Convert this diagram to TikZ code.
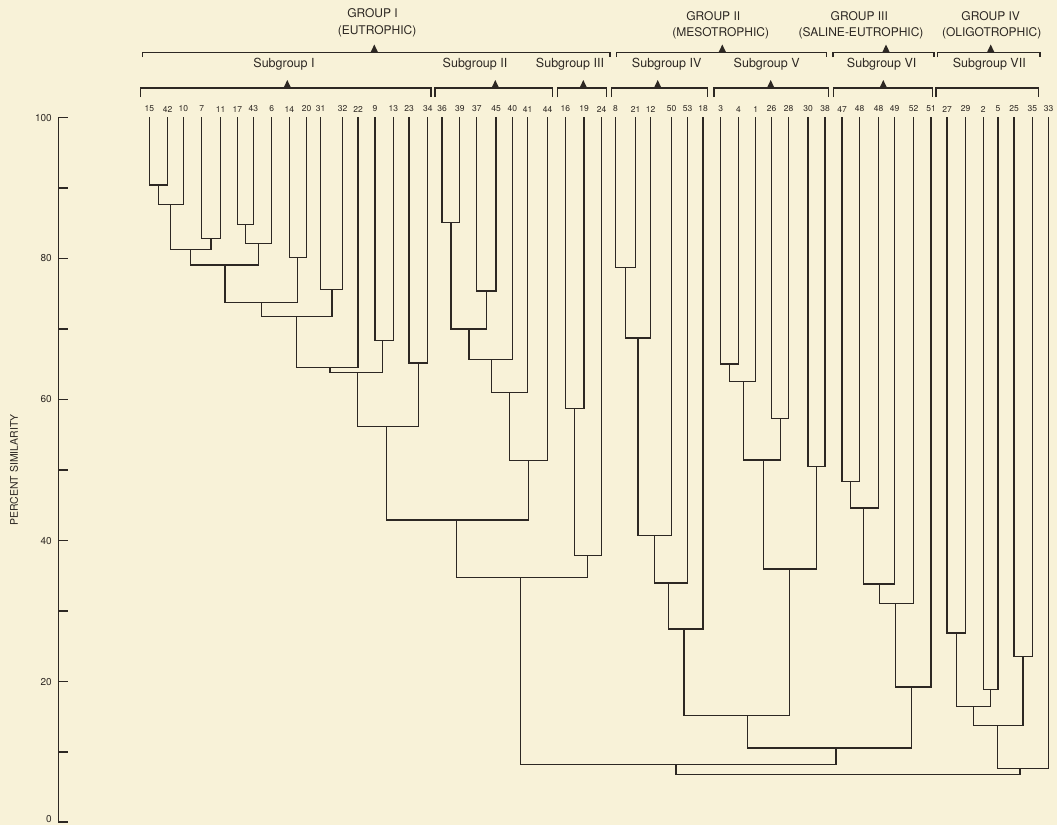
\documentclass[tikz,border=0pt]{standalone}
\usepackage{fontspec}
\setmainfont{TeX Gyre Heros}
\definecolor{paper}{RGB}{248,242,216}
\definecolor{ink}{RGB}{45,40,35}
\tikzset{
  tree/.style={draw=ink, line width=1.1pt},
  brak/.style={draw=ink, line width=1.2pt},
  leaflab/.style={font=\fontsize{8.5}{9}\selectfont, text=ink, inner sep=0pt},
  grouplab/.style={font=\fontsize{12}{14}\selectfont, text=ink, inner sep=0pt},
  sublab/.style={font=\fontsize{12.5}{14}\selectfont, text=ink, inner sep=0pt},
  axlab/.style={font=\fontsize{10}{12}\selectfont, text=ink, anchor=east, inner sep=0pt},
  tri/.style={fill=ink, draw=none},
}
\begin{document}
\begin{tikzpicture}[x=1pt,y=-1pt]
\fill[paper] (0,0) rectangle (1057,825);
\useasboundingbox (0,0) rectangle (1057,825);

% leaves
\foreach \i/\x/\t in {1/149.3/15,2/167.7/42,3/183.3/10,4/201.7/7,5/220.7/11,6/237.3/17,7/253.3/43,8/271.7/6,9/289.3/14,10/306.7/20,11/320.7/31,12/342.7/32,13/358/22,14/375/9,15/393.3/13,16/409/23,17/427.8/34,18/442/36,19/459.8/39,20/476.8/37,21/496/45,22/512.3/40,23/527.7/41,24/547.7/44,25/565.3/16,26/584/19,27/601.7/24,28/615.5/8,29/635.5/21,30/650.7/12,31/671.5/50,32/687.7/53,33/703/18,34/720.7/3,35/738.5/4,36/755.8/1,37/771.7/26,38/788.7/28,39/808/30,40/825/38,41/842/47,42/859.5/48,43/878.5/48,44/894.5/49,45/913.5/52,46/931/51,47/947/27,48/965.7/29,49/983.3/2,50/998/5,51/1014/25,52/1032.3/35,53/1048.7/33}{
  \coordinate (l\i) at (\x,117);
  \node[leaflab] (n\i) at (\x,109) {\t};
}

% merges
\foreach \m/\x/\y/\a/\b in {
a1/158.4/185/l1/l2, a2/170.5/204.3/a1/l3, a3/211/238.3/l4/l5, a4/245.3/224.3/l6/l7,
a5/258.4/243.3/a4/l8, a6/190.5/249.3/a2/a3, a7/225/265/a6/a5, a8/297.5/257.3/l9/l10,
a9/332/289.7/l11/l12, a10/261.5/302.7/a7/a8, a11/296.3/316.3/a10/a9, a12/382.7/340.7/l14/l15,
a13/418.4/363/l16/l17, a14/330/367.7/a11/l13, a15/357.3/372.3/a14/a12, a16/386.7/426.7/a15/a13,
b1/451/222.7/l18/l19, b2/486.4/291/l20/l21, b3/469/329/b1/b2, b4/491.5/359.3/b3/l22,
b5/509.3/392.2/b4/l23, b6/528.3/460.3/b5/l24, g1/456.5/520/a16/b6,
c1/574.7/408.5/l25/l26, c2/587.5/555.7/c1/l27, G1/520.5/577.7/g1/c2,
d1/625.5/267.3/l28/l29, d2/638/338/d1/l30, d3/654.3/535.3/d2/l31, d4/668.5/583/d3/l32,
d5/684/629/d4/l33, e1/729.8/364/l34/l35, e2/743.5/381.8/e1/l36, e3/780.2/418.5/l37/l38,
e4/763.3/460/e2/e3, e5/816.5/466.7/l39/l40, e6/789.7/569/e4/e5, G2/747.3/715.3/d5/e6,
f1/850.5/481.3/l41/l42, f2/863.7/508/f1/l43, f3/879.7/584/f2/l44, f4/895.7/603.3/f3/l45,
f5/911.7/687/f4/l46, G3/836/748/G2/f5,
h1/956.3/633/l47/l48, h2/990.5/689.7/l49/l50, h3/973.3/706.7/h1/h2, h4/1023/656.7/l51/l52,
h5/997.3/725.3/h3/h4, G4/1020/768.3/h5/l53, R0/676/764.3/G1/G3, R/848/774.3/R0/G4}{
  \coordinate (\m) at (\x,\y);
  \draw[tree] (\a) |- (\m) -| (\b);
}

% group brackets
\foreach \k/\xa/\xb/\xt in {gA/142.7/610/374.3, gB/616.7/826.7/722.3, gC/833/934/886, gD/937.3/1040/990.7}{
  \coordinate (\k1) at (\xa,52.5);
  \coordinate (\k2) at (\xb,52.5);
  \draw[brak] ([yshift=-4.5pt]\k1) -- (\k1) -- (\k2) -- ([yshift=-4.5pt]\k2);
  \fill[tri] (\xt-3.8,52.5) -- (\xt,44.5) -- (\xt+3.8,52.5) -- cycle;
}
% subgroup brackets
\foreach \k/\xa/\xb in {sA/140.7/431, sB/435/552.3, sC/557.3/606.7, sD/611.7/707.3, sE/714/828.7, sF/833.3/932.7, sG/936/1038.3}{
  \coordinate (\k1) at (\xa,88);
  \coordinate (\k2) at (\xb,88);
  \draw[brak] ([yshift=-9pt]\k1) -- (\k1) -- (\k2) -- ([yshift=-9pt]\k2);
}
\foreach \xt in {287.3,495.3,583.3,657.7,770.7,883.3}{
  \fill[tri] (\xt-3.8,88) -- (\xt,80) -- (\xt+3.8,88) -- cycle;
}

% group labels
\node[grouplab] (tA1) at (372.5,13.3) {GROUP I};
\node[grouplab] (tA2) at (377,31.7) {(EUTROPHIC)};
\node[grouplab] (tB1) at (713.3,16) {GROUP II};
\node[grouplab] (tB2) at (720.7,33.3) {(MESOTROPHIC)};
\node[grouplab] (tC1) at (859.3,16) {GROUP III};
\node[grouplab] (tC2) at (861,33.3) {(SALINE-EUTROPHIC)};
\node[grouplab] (tD1) at (990.7,16) {GROUP IV};
\node[grouplab] (tD2) at (991.7,33.3) {(OLIGOTROPHIC)};

% subgroup labels
\node[sublab] (u1) at (284,64) {Subgroup I};
\node[sublab] (u2) at (475,64) {Subgroup II};
\node[sublab] (u3) at (570,64) {Subgroup III};
\node[sublab] (u4) at (666.7,64) {Subgroup IV};
\node[sublab] (u5) at (766.7,64) {Subgroup V};
\node[sublab] (u6) at (881.7,64) {Subgroup VI};
\node[sublab] (u7) at (989.3,64) {Subgroup VII};

% axis
\coordinate (ax0) at (58.5,822);
\coordinate (ax1) at (58.5,117.5);
\draw[brak] ([xshift=9pt]ax1) -- (ax1) -- (ax0) -- ([xshift=9pt]ax0);
\foreach \y in {188,258.5,329,399.5,470,540.5,611,681.5,752}{
  \draw[brak] (58.5,\y) -- (67.5,\y);
}
\foreach \v/\y in {100/118,80/258.5,60/399.5,40/541.5,20/682,0/819}{
  \node[axlab] (y\v) at (52,\y) {\v};
}
\node[font=\fontsize{10.5}{12}\selectfont, text=ink, rotate=90, inner sep=0pt] (ytitle) at (14,470) {PERCENT SIMILARITY};
\end{tikzpicture}
\end{document}
